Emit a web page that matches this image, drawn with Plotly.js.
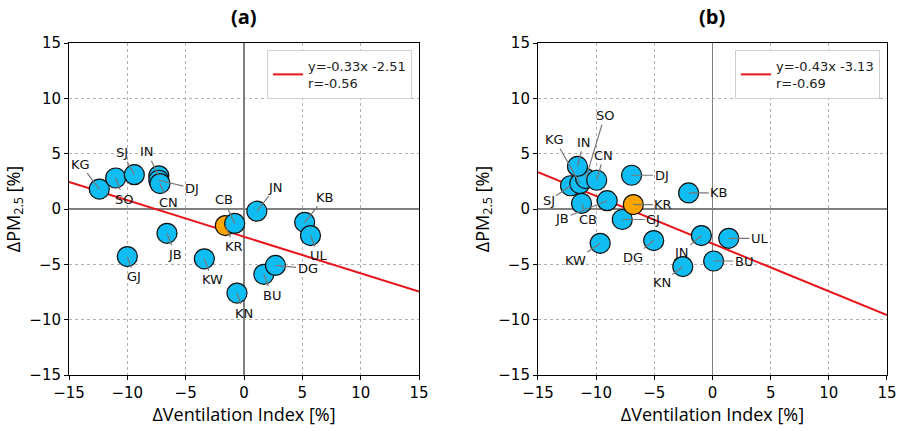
<!DOCTYPE html>
<html>
<head>
<meta charset="utf-8">
<script src="https://cdn.plot.ly/plotly-3.0.1.min.js"></script>
<style>html,body{margin:0;padding:0;background:#fff;}#chart{width:899px;height:431px;}</style>
</head>
<body>
<div id="chart"></div>
<script>
// ---- Panel (a) data ----
const namesA = ["KG","SO","SJ","IN","DJ","CN","JB","GJ","KW","KN","BU","DG","JN","KB","UL","KR","CB"];
const ventA  = [-12.4,-11.0,-9.4,-7.3,-7.3,-7.2,-6.6,-10.0,-3.4,-0.6,1.7,2.7,1.1,5.2,5.7,-1.6,-0.8];
const pmA    = [1.8,2.8,3.1,3.0,2.6,2.3,-2.2,-4.3,-4.5,-7.6,-5.9,-5.1,-0.2,-1.2,-2.4,-1.5,-1.3];
const fitXA  = [-15, 15];
const fitYA  = [2.44, -7.46];
const legendA = "y=-0.33x -2.51<br>r=-0.56";

// ---- Panel (b) data ----
const namesB = ["SJ","KG","SO","CN","IN","CB","JB","DJ","GJ","KW","DG","KB","JN","UL","BU","KN","KR"];
const ventB  = [-12.2,-11.4,-10.9,-9.95,-11.6,-11.25,-9.05,-6.95,-7.75,-9.65,-5.05,-2.05,-0.95,1.4,0.1,-2.55,-6.8];
const pmB    = [2.1,2.3,2.75,2.6,3.85,0.5,0.75,3.05,-0.95,-3.1,-2.85,1.45,-2.4,-2.65,-4.7,-5.2,0.4];
const fitXB  = [-15, 15];
const fitYB  = [3.32, -9.58];
const legendB = "y=-0.43x -3.13<br>r=-0.69";

// ---- label offsets (pixels, styling only) ----
const offA = {KG:[-19,-25],SO:[8,21],SJ:[-12,-22],IN:[-12,-24],DJ:[33,8],CN:[8,19],JB:[8,21],GJ:[7,20],
  KW:[8,21],KN:[7,20],BU:[8,21],DG:[32,3],JN:[19,-24],KB:[20,-25],UL:[8,20],KR:[9,21],CB:[-11,-24]};
const offB = {SJ:[-22,15],KG:[-25,-44],SO:[19,-63],IN:[6,-24],CN:[7,-25],CB:[6,16],JB:[-45,18],DJ:[30,0],
  KR:[30,0],KB:[30,0],GJ:[31,0],UL:[31,0],BU:[30,0],KW:[-25,17],DG:[-21,17],JN:[-20,17],KN:[-21,16]};

const BLUE = "#10bdf2", ORANGE = "#ffa500";
const tickFont = {family:"DejaVu Sans", size:15, color:"#000"};
const titleFont = {family:"Open Sans", size:18, color:"#000"};

function colors(names){ return names.map(n => n === "KR" ? ORANGE : BLUE); }

const traces = [
  {x: fitXA, y: fitYA, mode:"lines", line:{color:"#e8141a", width:2}, name: legendA, xaxis:"x", yaxis:"y", legend:"legend", showlegend:true},
  {x: ventA, y: pmA, mode:"markers", marker:{size:20, color: colors(namesA), line:{color:"#111", width:1.2}}, xaxis:"x", yaxis:"y", showlegend:false},
  {x: fitXB, y: fitYB, mode:"lines", line:{color:"#e8141a", width:2}, name: legendB, xaxis:"x2", yaxis:"y2", legend:"legend2", showlegend:true},
  {x: ventB, y: pmB, mode:"markers", marker:{size:20, color: colors(namesB), line:{color:"#111", width:1.2}}, xaxis:"x2", yaxis:"y2", showlegend:false}
];

function labelAnns(names, xs, ys, offs, xref, yref){
  return names.map((n,i) => ({
    x: xs[i], y: ys[i], xref: xref, yref: yref, text: n,
    showarrow: true, arrowhead: 0, arrowwidth: 1.2, arrowcolor: "#777",
    ax: offs[n][0], ay: offs[n][1], standoff: 0, startstandoff: 0,
    font: {family:"DejaVu Sans", size:13, color:"#111"}
  }));
}

function axis(extra){
  return Object.assign({
    range:[-15,15], dtick:5, tick0:-15, ticks:"outside", ticklen:4, tickcolor:"#000", tickwidth:1,
    showline:true, mirror:true, linecolor:"#000", linewidth:1,
    showgrid:true, gridcolor:"#b0b0b0", griddash:"dot", gridwidth:1,
    zeroline:true, zerolinecolor:"#808080", zerolinewidth:1.5,
    tickfont: tickFont, fixedrange:true
  }, extra);
}

const layout = {
  width: 899, height: 431,
  margin: {l:69, r:12, t:43, b:56},
  paper_bgcolor:"#fff", plot_bgcolor:"#fff",
  xaxis: axis({domain:[0,0.4279], anchor:"y", title:{text:"ΔVentilation Index [%]", font:titleFont, standoff:4}}),
  yaxis: axis({domain:[0,1], anchor:"x", title:{text:"ΔPM<sub>2.5</sub> [%]", font:titleFont, standoff:4}}),
  xaxis2: axis({domain:[0.5733,1], anchor:"y2", title:{text:"ΔVentilation Index [%]", font:titleFont, standoff:4}}),
  yaxis2: axis({domain:[0,1], anchor:"x2", title:{text:"ΔPM<sub>2.5</sub> [%]", font:titleFont, standoff:4}}),
  legend: {x:0.4193, y:0.979, xanchor:"right", yanchor:"top", bgcolor:"#fff", bordercolor:"#d0d0d0", borderwidth:1,
           font:{family:"DejaVu Sans", size:13, color:"#222"}, itemwidth:30, tracegroupgap:0},
  legend2: {x:0.9914, y:0.979, xanchor:"right", yanchor:"top", bgcolor:"#fff", bordercolor:"#d0d0d0", borderwidth:1,
           font:{family:"DejaVu Sans", size:13, color:"#222"}, itemwidth:30, tracegroupgap:0},
  annotations: [
    {text:"<b>(a)</b>", xref:"paper", yref:"paper", x:0.2139, y:1.081, xanchor:"center", yanchor:"middle", showarrow:false,
     font:{family:"Open Sans", size:20, color:"#000"}},
    {text:"<b>(b)</b>", xref:"paper", yref:"paper", x:0.7866, y:1.081, xanchor:"center", yanchor:"middle", showarrow:false,
     font:{family:"Open Sans", size:20, color:"#000"}}
  ].concat(labelAnns(namesA, ventA, pmA, offA, "x", "y"))
   .concat(labelAnns(namesB, ventB, pmB, offB, "x2", "y2")),
  showlegend: true
};

Plotly.newPlot("chart", traces, layout, {staticPlot:true, displayModeBar:false});
</script>
</body>
</html>
